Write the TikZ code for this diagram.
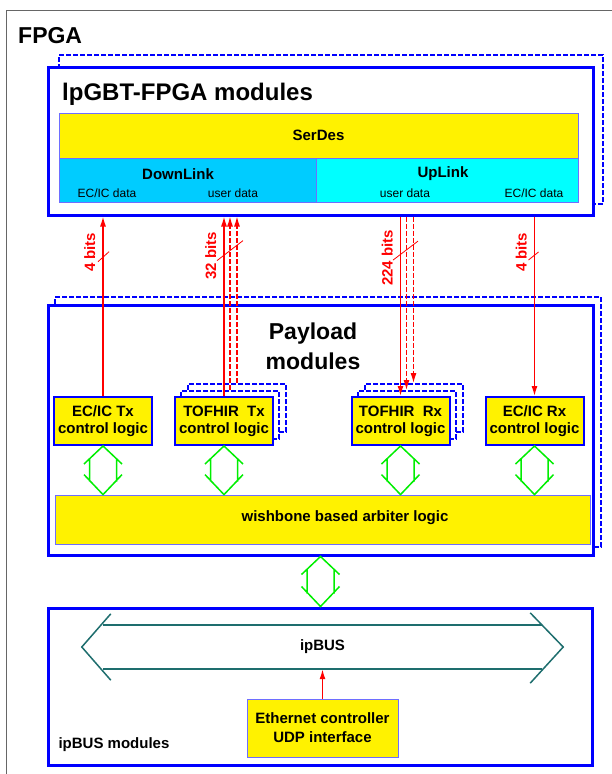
\documentclass[tikz,border=0pt]{standalone}
\usepackage{fontspec}
\setmainfont{Liberation Sans}
\usetikzlibrary{arrows.meta,positioning,calc}

\definecolor{dlblue}{RGB}{0,204,255}
\definecolor{ulcyan}{RGB}{0,255,255}
\definecolor{wbgreen}{RGB}{0,238,0}
\definecolor{busteal}{RGB}{30,110,110}
\definecolor{edgeblue}{RGB}{110,110,255}

% open double arrow between two stacked blocks
\newcommand{\wbarrow}[2]{%
  \draw[duplex] let \p1=(#1.south), \p2=(#1.south |- #2.north) in
    (\x1-19pt,\y1-18pt) -- (\p1) -- (\x1+19pt,\y1-18pt)
    (\x1-13.5pt,\y1-12.5pt) -- (\x1-13.5pt,\y2+13pt)
    (\x1+13.5pt,\y1-12.5pt) -- (\x1+13.5pt,\y2+13pt)
    (\x1-19pt,\y2+20pt) -- (\p2) -- (\x1+19pt,\y2+20pt);}

\begin{document}
\begin{tikzpicture}[x=1pt, y=-1pt,
    font=\bfseries\fontsize{15}{18}\selectfont,
    module/.style={draw=blue, line width=3pt, fill=white, inner sep=0pt},
    ghost/.style={draw=blue, line width=2pt, dash pattern=on 5pt off 2pt, fill=white, inner sep=0pt},
    ctrl/.style={draw=blue, line width=2pt, fill=yellow, inner sep=0pt, align=center, minimum width=98pt, minimum height=48pt, font=\bfseries\fontsize{15}{17}\selectfont},
    cell/.style={draw=edgeblue, line width=0.8pt, inner sep=0pt},
    note/.style={font=\mdseries\fontsize{12}{14}\selectfont},
    sig/.style={red, line width=1.4pt, -{Latex[length=10pt,width=6pt]}},
    dsig/.style={sig, line width=1.2pt, dash pattern=on 5pt off 2pt},
    slash/.style={red, line width=0.8pt},
    bits/.style={red, rotate=90, anchor=south, inner sep=7pt},
    duplex/.style={wbgreen, line width=1.5pt},
    busline/.style={busteal, line width=1.5pt}
]
\useasboundingbox (0,0) rectangle (612,774);
\draw[black!60, line width=1pt] (6,10) rectangle (700,800);
\node[anchor=base west, inner sep=0pt, font=\bfseries\fontsize{23}{27}\selectfont] (fpga) at (18,43) {FPGA};

% lpGBT block
\node[ghost, minimum width=544pt, minimum height=149pt] (lpghost) at (331,129.5) {};
\node[module, minimum width=545pt, minimum height=148pt] (lp) at (320.5,141) {};
\node[anchor=base west, inner sep=0pt, font=\bfseries\fontsize{24}{28}\selectfont] (lptitle) at (62,100) {lpGBT-FPGA modules};
\node[cell, fill=yellow, minimum width=519pt, minimum height=45pt] (serdes) at (318.5,135.5) {SerDes};
\node[cell, fill=dlblue, minimum width=257pt, minimum height=44pt] (down) at (187.5,180) {};
\node[cell, fill=ulcyan, minimum width=262pt, minimum height=44pt] (up) at (447,180) {};
\node (downlbl) at (178,174) {DownLink};
\node (uplbl) at (443,174) {UpLink};
\node[note] (dlec) at (107,193) {EC/IC data};
\node[note] (dlusr) at (233,193) {user data};
\node[note] (ulusr) at (405,193) {user data};
\node[note] (ulec) at (534,193) {EC/IC data};

% payload block
\node[ghost, minimum width=546pt, minimum height=250pt] (plghost) at (328,422) {};
\node[module, minimum width=545pt, minimum height=250pt] (pl) at (320.5,430) {};
\node[align=center, font=\bfseries\fontsize{23}{30}\selectfont] (pltitle) at (313,346) {Payload\\modules};

\node[ctrl] (ectx) at (103,421) {EC/IC Tx\\control logic};
\node[ghost, minimum width=98pt, minimum height=48pt] (txb) at (237,408) {};
\node[ghost, minimum width=98pt, minimum height=48pt] (txa) at (230,415) {};
\node[ctrl] (tx) at (224,421) {TOFHIR\ \ Tx\\control logic};
\node[ghost, minimum width=98pt, minimum height=48pt] (rxb) at (413.5,408) {};
\node[ghost, minimum width=98pt, minimum height=48pt] (rxa) at (406.5,415) {};
\node[ctrl] (rx) at (400.5,421) {TOFHIR\ \ Rx\\control logic};
\node[ctrl] (ecrx) at (534.5,421) {EC/IC Rx\\control logic};

\node[cell, fill=yellow, minimum width=535pt, minimum height=49pt] (arb) at (322.5,519.5) {};
\node (arblbl) at (345,518) {wishbone based arbiter logic};

% ipBUS block
\node[module, minimum width=544pt, minimum height=157pt] (ipmod) at (320,686.5) {};
\node[anchor=west] (ipmodlbl) at (55,745) {ipBUS modules};
\node[inner sep=0pt, minimum width=439pt, minimum height=44pt] (ipbus) at (322.5,647) {ipBUS};
\node[cell, fill=yellow, align=center, minimum width=151pt, minimum height=58pt, font=\bfseries\fontsize{15}{19}\selectfont] (eth) at (322.5,728) {Ethernet controller\\UDP interface};

\draw[busline] (ipbus.north west) -- (ipbus.north east) (ipbus.south west) -- (ipbus.south east);
\draw[busline] ([xshift=8pt,yshift=11pt]ipbus.north west) -- ([xshift=-21pt]ipbus.west) -- ([xshift=8pt,yshift=-11pt]ipbus.south west);
\draw[busline] ([xshift=-12pt,yshift=12pt]ipbus.north east) -- ([xshift=21pt]ipbus.east) -- ([xshift=-12pt,yshift=-14pt]ipbus.south east);

% links to lpGBT
\draw[sig] (ectx) -- node[bits, pos=0.8] {4 bits} coordinate[pos=0.776] (m1) (ectx |- lp.south);
\draw[sig] (tx) -- node[bits, pos=0.78] {32 bits} coordinate[pos=0.81] (m2) (tx |- lp.south);
\draw[dsig] (txa) -- (txa |- lp.south);
\draw[dsig] (txb) -- (txb |- lp.south);
\draw[sig] (rx |- lp.south) -- node[bits, pos=0.23] {224 bits} coordinate[pos=0.19] (m3) (rx);
\draw[dsig] (rxa |- lp.south) -- (rxa);
\draw[dsig] (rxb |- lp.south) -- (rxb);
\draw[sig] (ecrx |- lp.south) -- node[bits, pos=0.2] {4 bits} coordinate[pos=0.22] (m4) (ecrx);
\draw[slash] ($(m1)+(-5,5)$) -- ($(m1)+(6,-5)$);
\draw[slash] ($(m2)+(-7,10)$) -- ($(m2)+(19,-10)$);
\draw[slash] ($(m3)+(-7.5,9.5)$) -- ($(m3)+(17.5,-9.5)$);
\draw[slash] ($(m4)+(-6,4)$) -- ($(m4)+(4,-4)$);

% wishbone links
\wbarrow{ectx}{arb}
\wbarrow{tx}{arb}
\wbarrow{rx}{arb}
\wbarrow{ecrx}{arb}
\wbarrow{pl}{ipmod}

\draw[sig] (eth) -- (eth |- ipbus.south);
\end{tikzpicture}
\end{document}
